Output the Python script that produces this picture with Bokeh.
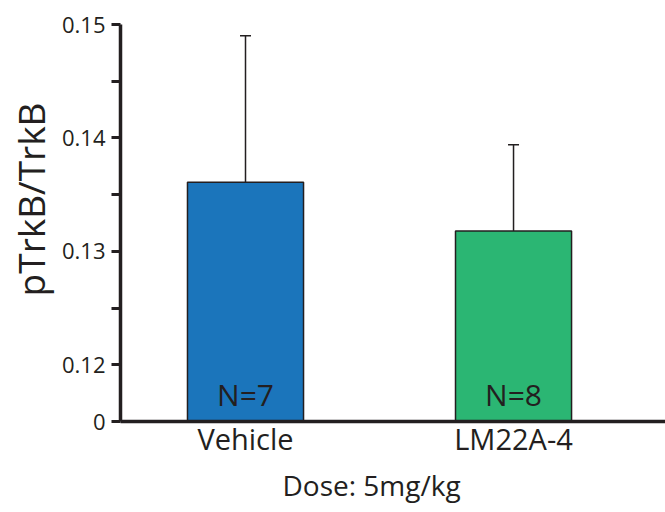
from bokeh.plotting import figure
from bokeh.models import (ColumnDataSource, Range1d, FixedTicker, Whisker, TeeHead, Title)
from bokeh.core.properties import value
from bokeh.embed import file_html
from bokeh.resources import INLINE

# ---- data ----
groups = ["Vehicle", "LM22A-4"]
means = [0.1361, 0.1318]
errors = [0.0129, 0.0076]
n_labels = ["N=7", "N=8"]
colors = ["#1b75bb", "#2bb673"]
y_ticks = [0.115, 0.12, 0.13, 0.14, 0.15]
y_tick_labels = ["0", "0.12", "0.13", "0.14", "0.15"]
y_minor = [0.125, 0.135, 0.145]

INK = "#231f20"
FONT = "Open Sans"

xs = [1, 2]
y0 = y_ticks[0]
n_label_y = y0 + 0.0024
src = ColumnDataSource(dict(
    x=xs, top=means, upper=[m + e for m, e in zip(means, errors)],
    color=colors, n=n_labels, base=[y0] * len(xs), ny=[n_label_y] * len(xs),
))

p = figure(width=665, height=512, output_backend="svg", toolbar_location=None,
           x_range=Range1d(0.5336, 2.567), y_range=Range1d(0.115, 0.15),
           min_border_left=120, min_border_right=0, min_border_top=24,
           min_border_bottom=91)
p.outline_line_color = None
p.xgrid.visible = False
p.ygrid.visible = False
p.background_fill_color = "white"
p.border_fill_color = "white"

p.vbar(x="x", top="top", bottom="base", width=0.433, fill_color="color",
       line_color=INK, line_width=1.5, source=src)

w = Whisker(source=src, base="x", upper="upper", lower="top",
            upper_head=TeeHead(size=11, line_color=INK, line_width=1.5),
            lower_head=None, line_color=INK, line_width=1.5)
p.add_layout(w)

p.text(x="x", y="ny", text="n", source=src, text_align="center",
       text_baseline="middle", text_font=value(FONT),
       text_font_size="30px", text_color=INK)

# y axis
ya = p.yaxis[0]
ya.ticker = FixedTicker(ticks=y_ticks, minor_ticks=y_minor)
ya.major_label_overrides = {t: l for t, l in zip(y_ticks, y_tick_labels)}
ya.axis_line_width = 3.5
ya.axis_line_color = INK
ya.major_tick_line_width = 3
ya.major_tick_line_color = INK
ya.minor_tick_line_width = 3
ya.minor_tick_line_color = INK
ya.major_tick_in = 0
ya.major_tick_out = 9
ya.minor_tick_in = 0
ya.minor_tick_out = 9
ya.major_label_standoff = 6
ya.major_label_text_font = FONT
ya.major_label_text_font_size = "22px"
ya.major_label_text_color = INK

# x axis
xa = p.xaxis[0]
xa.ticker = FixedTicker(ticks=xs, minor_ticks=[])
xa.major_label_overrides = {x: g for x, g in zip(xs, groups)}
xa.axis_line_width = 3.5
xa.axis_line_color = INK
xa.major_tick_line_color = None
xa.minor_tick_line_color = None
xa.major_tick_in = 0
xa.major_tick_out = 0
xa.major_label_standoff = -3
xa.major_label_text_font = FONT
xa.major_label_text_font_size = "29px"
xa.major_label_text_color = INK

ytitle = Title(text="pTrkB/TrkB", align="right", offset=78, vertical_align="top",
               text_font=FONT, text_font_size="37px", text_font_style="normal",
               text_color=INK, standoff=2)
p.add_layout(ytitle, "left")

xtitle = Title(text="Dose: 5mg/kg", align="left", offset=162, vertical_align="top",
               text_font=FONT, text_font_size="28px", text_font_style="normal",
               text_color=INK, standoff=10)
p.add_layout(xtitle, "below")

open("out.html", "w").write(file_html(p, INLINE))
